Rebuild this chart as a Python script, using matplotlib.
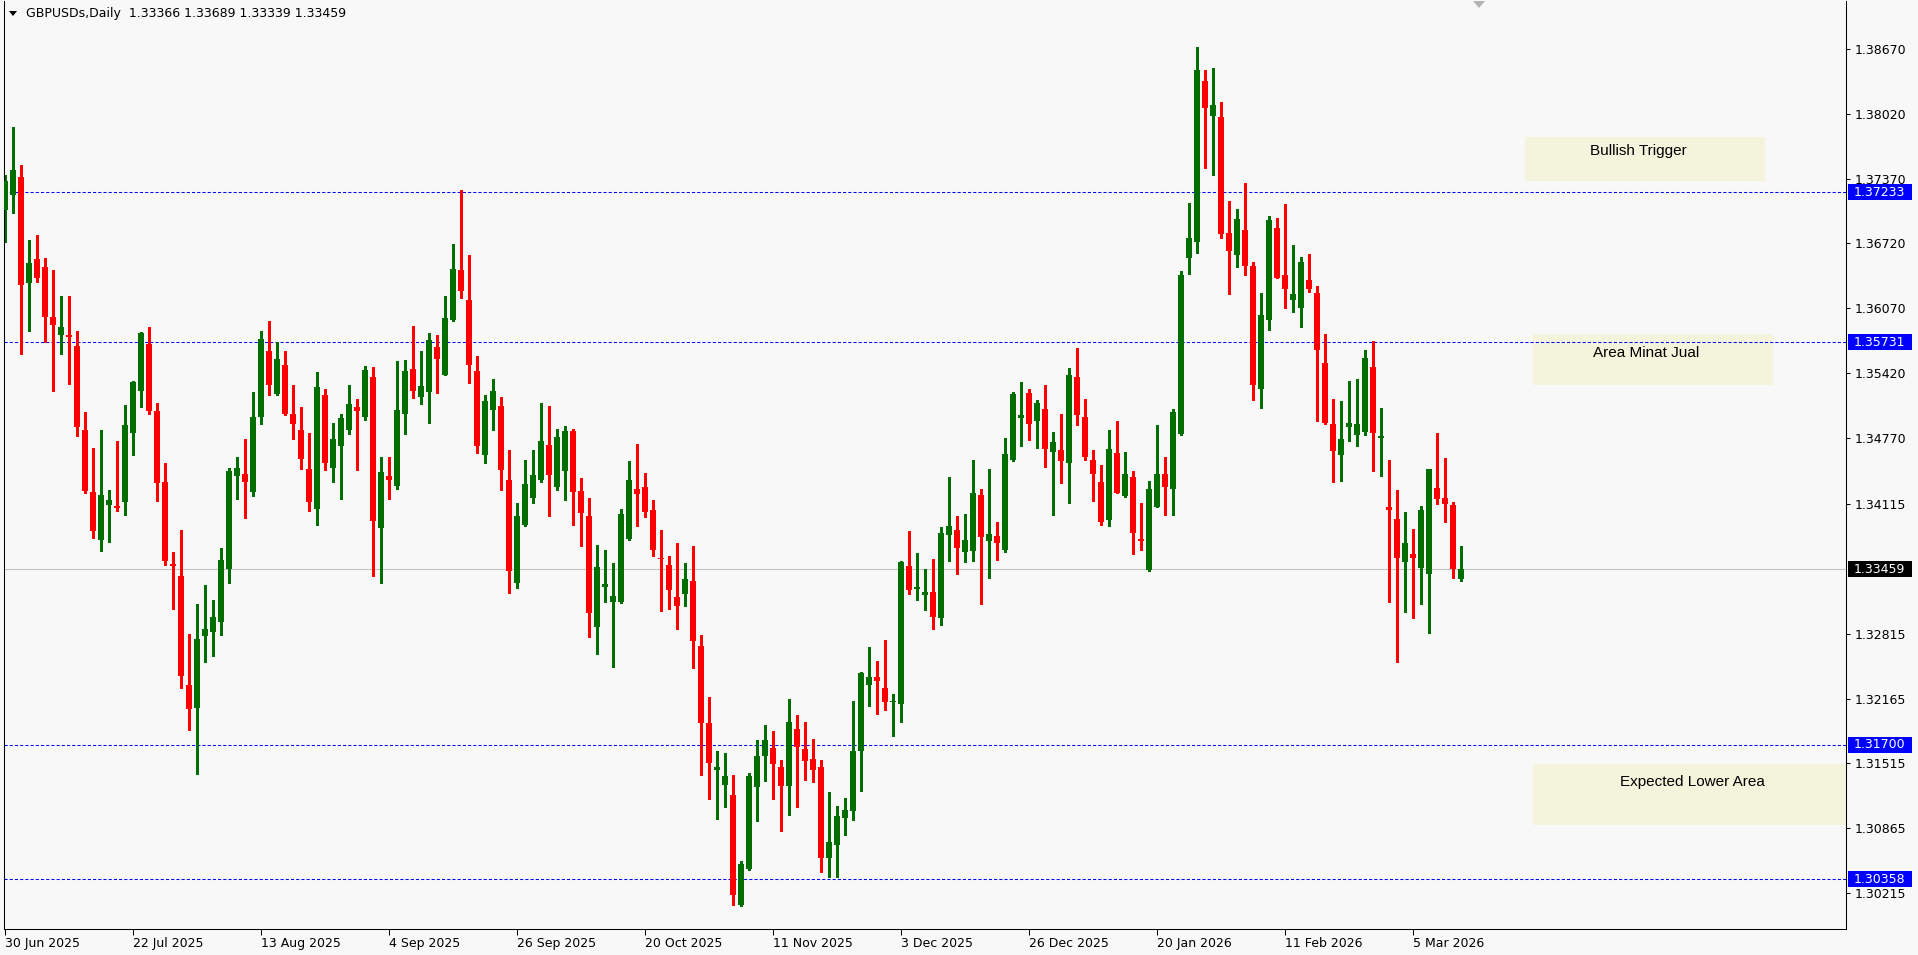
import numpy as np
import matplotlib
matplotlib.use("Agg")
import matplotlib.pyplot as plt
from matplotlib.patches import Rectangle, Polygon

# ---------------- data (GBPUSD daily) ----------------
opens = [1.37055, 1.37207, 1.37385, 1.36327, 1.36561, 1.36483, 1.35984, 1.35807, 1.35802, 1.35694,
         1.34853, 1.34233, 1.33756, 1.34098, 1.34089, 1.34137, 1.34827, 1.35247, 1.35711, 1.35043,
         1.34332, 1.33513, 1.33391, 1.32303, 1.32069, 1.32789, 1.32828, 1.32936, 1.33461, 1.34389,
         1.34415, 1.34237, 1.34983, 1.35642, 1.35212, 1.35503, 1.35013, 1.34853, 1.34462, 1.34059,
         1.35204, 1.34475, 1.34696, 1.34857, 1.35082, 1.34987, 1.35382, 1.33877, 1.34393, 1.34289,
         1.35009, 1.35464, 1.35186, 1.35234, 1.35685, 1.35408, 1.35954, 1.36453, 1.36153, 1.35442,
         1.34605, 1.35056, 1.35090, 1.34350, 1.33325, 1.33901, 1.34174, 1.34350, 1.34700, 1.34284,
         1.34443, 1.34840, 1.34240, 1.33991, 1.32885, 1.33285, 1.33135, 1.33135, 1.33764, 1.34260,
         1.34280, 1.34050, 1.33571, 1.33501, 1.33182, 1.33215, 1.33341, 1.32692, 1.31923, 1.31447,
         1.31297, 1.31204, 1.30097, 1.30458, 1.31278, 1.31586, 1.31673, 1.31484, 1.31286, 1.31856,
         1.31662, 1.31563, 1.31484, 1.30568, 1.30697, 1.30967, 1.31035, 1.31639, 1.32296, 1.32376,
         1.32273, 1.32129, 1.32106, 1.33496, 1.33257, 1.33200, 1.33227, 1.32969, 1.33800, 1.33857,
         1.33629, 1.33641, 1.34207, 1.33746, 1.33792, 1.33647, 1.34555, 1.34976, 1.35221, 1.34946,
         1.35064, 1.34635, 1.34651, 1.34524, 1.35382, 1.34984, 1.34551, 1.34333, 1.33957, 1.34624,
         1.34195, 1.34382, 1.33758, 1.33455, 1.34087, 1.34413, 1.34267, 1.34815, 1.36578, 1.36739,
         1.38348, 1.37992, 1.37988, 1.36826, 1.36609, 1.36856, 1.36495, 1.35267, 1.35958, 1.36876,
         1.36405, 1.36158, 1.36078, 1.36355, 1.36225, 1.35524, 1.34914, 1.34598, 1.34888, 1.34808,
         1.34838, 1.35484, 1.34778, 1.34084, 1.33964, 1.33528, 1.33614, 1.33468, 1.33408, 1.34274,
         1.34174, 1.34104, 1.33366]
highs = [1.37402, 1.37888, 1.37510, 1.36752, 1.36804, 1.36574, 1.36453, 1.36192, 1.36192, 1.35841,
         1.35035, 1.34675, 1.34853, 1.34254, 1.34744, 1.35104, 1.35343, 1.35832, 1.35885, 1.35121,
         1.34527, 1.33634, 1.33855, 1.32815, 1.33110, 1.33305, 1.33153, 1.33673, 1.34471, 1.34584,
         1.34762, 1.35234, 1.35841, 1.35941, 1.35737, 1.35642, 1.35303, 1.35082, 1.34822, 1.35434,
         1.35265, 1.34922, 1.35017, 1.35303, 1.35165, 1.35494, 1.35481, 1.34579, 1.34584, 1.35546,
         1.35555, 1.35893, 1.35642, 1.35824, 1.35802, 1.36192, 1.36713, 1.37255, 1.36604, 1.35594,
         1.35204, 1.35364, 1.35180, 1.34656, 1.34120, 1.34557, 1.34656, 1.35120, 1.35089, 1.34860,
         1.34890, 1.34860, 1.34377, 1.34177, 1.33698, 1.33651, 1.33521, 1.34067, 1.34540, 1.34710,
         1.34420, 1.34150, 1.33857, 1.33591, 1.33718, 1.33521, 1.33691, 1.32802, 1.32183, 1.31643,
         1.31623, 1.31404, 1.30542, 1.31423, 1.31746, 1.31905, 1.31844, 1.31552, 1.32156, 1.32004,
         1.31935, 1.31765, 1.31552, 1.31233, 1.31092, 1.31172, 1.32144, 1.32433, 1.32684, 1.32543,
         1.32756, 1.32213, 1.33538, 1.33846, 1.33626, 1.33466, 1.33557, 1.33884, 1.34378, 1.33994,
         1.34017, 1.34556, 1.34267, 1.34463, 1.33930, 1.34773, 1.35233, 1.35333, 1.35264, 1.35152,
         1.35302, 1.34834, 1.35015, 1.35474, 1.35674, 1.35164, 1.34651, 1.34501, 1.34854, 1.34942,
         1.34631, 1.34444, 1.34122, 1.34340, 1.34903, 1.34582, 1.35064, 1.36444, 1.37126, 1.38689,
         1.38459, 1.38478, 1.38137, 1.37146, 1.37066, 1.37326, 1.36535, 1.36225, 1.36996, 1.36976,
         1.37116, 1.36706, 1.36585, 1.36616, 1.36295, 1.35814, 1.35164, 1.35144, 1.35344, 1.35364,
         1.35654, 1.35744, 1.35074, 1.34554, 1.34254, 1.34034, 1.33864, 1.34094, 1.34464, 1.34824,
         1.34574, 1.34134, 1.33689]
lows = [1.36730, 1.37025, 1.35616, 1.35846, 1.36335, 1.35737, 1.35247, 1.35616, 1.35317, 1.34796,
        1.34224, 1.33777, 1.33639, 1.33730, 1.34046, 1.34007, 1.34605, 1.35087, 1.35017, 1.34146,
        1.33500, 1.33066, 1.32268, 1.31848, 1.31410, 1.32533, 1.32589, 1.32806, 1.33326, 1.34167,
        1.33977, 1.34189, 1.34918, 1.35199, 1.35204, 1.35004, 1.34766, 1.34458, 1.34046, 1.33899,
        1.34449, 1.34337, 1.34159, 1.34818, 1.34449, 1.34957, 1.33387, 1.33318, 1.34159, 1.34267,
        1.34809, 1.35169, 1.35117, 1.34926, 1.35225, 1.35399, 1.35941, 1.36175, 1.35325, 1.34618,
        1.34519, 1.34857, 1.34250, 1.33225, 1.33275, 1.33891, 1.34124, 1.34334, 1.33994, 1.34254,
        1.34154, 1.33904, 1.33694, 1.32785, 1.32606, 1.33135, 1.32476, 1.33125, 1.33757, 1.33894,
        1.33984, 1.33594, 1.33045, 1.33065, 1.32865, 1.33095, 1.32466, 1.31397, 1.31157, 1.30958,
        1.31077, 1.30099, 1.30090, 1.30447, 1.30937, 1.31335, 1.31157, 1.30838, 1.30997, 1.31077,
        1.31347, 1.31328, 1.30428, 1.30378, 1.30378, 1.30796, 1.30948, 1.31237, 1.32087, 1.32008,
        1.32049, 1.31787, 1.31928, 1.33208, 1.33147, 1.33048, 1.32858, 1.32900, 1.33538, 1.33409,
        1.33531, 1.33538, 1.33109, 1.33375, 1.33555, 1.33635, 1.34543, 1.34697, 1.34758, 1.34677,
        1.34486, 1.34007, 1.34325, 1.34126, 1.34907, 1.34555, 1.34145, 1.33903, 1.33896, 1.34218,
        1.34187, 1.33616, 1.33647, 1.33444, 1.34080, 1.34007, 1.34007, 1.34808, 1.36417, 1.36628,
        1.37478, 1.37405, 1.36777, 1.36218, 1.36485, 1.36409, 1.35157, 1.35077, 1.35858, 1.36372,
        1.36078, 1.36038, 1.35888, 1.36238, 1.34947, 1.34914, 1.34328, 1.34338, 1.34748, 1.34688,
        1.34808, 1.34438, 1.34388, 1.33128, 1.32528, 1.33028, 1.32968, 1.33108, 1.32818, 1.34108,
        1.33928, 1.33368, 1.33339]
closes = [1.37341, 1.37454, 1.36305, 1.36522, 1.36379, 1.35989, 1.35906, 1.35885, 1.35789, 1.34879,
          1.34246, 1.33842, 1.34202, 1.34154, 1.34068, 1.34905, 1.35334, 1.35824, 1.35048, 1.34319,
          1.33539, 1.33487, 1.32390, 1.32056, 1.32763, 1.32862, 1.32984, 1.33552, 1.34445, 1.34471,
          1.34328, 1.34983, 1.35763, 1.35299, 1.35564, 1.35017, 1.34918, 1.34566, 1.34137, 1.35282,
          1.34519, 1.34762, 1.34974, 1.35113, 1.35039, 1.35451, 1.33946, 1.34432, 1.34354, 1.35052,
          1.35442, 1.35247, 1.35295, 1.35754, 1.35559, 1.35971, 1.36461, 1.36249, 1.35499, 1.34696,
          1.35143, 1.35243, 1.34450, 1.33445, 1.33991, 1.34310, 1.34400, 1.34740, 1.34403, 1.34780,
          1.34840, 1.34234, 1.34024, 1.33025, 1.33481, 1.33311, 1.33192, 1.34011, 1.34350, 1.34214,
          1.34034, 1.33654, 1.33564, 1.33255, 1.33095, 1.33361, 1.32745, 1.31916, 1.31517, 1.31484,
          1.31394, 1.30198, 1.30511, 1.31385, 1.31594, 1.31753, 1.31506, 1.31286, 1.31935, 1.31677,
          1.31537, 1.31446, 1.30568, 1.30724, 1.30994, 1.31054, 1.31643, 1.32425, 1.32384, 1.32342,
          1.32129, 1.32144, 1.33527, 1.33250, 1.33280, 1.33234, 1.32980, 1.33827, 1.33895, 1.33671,
          1.33755, 1.34226, 1.33781, 1.33812, 1.33723, 1.34612, 1.35214, 1.35003, 1.34915, 1.35122,
          1.34666, 1.34731, 1.34547, 1.35402, 1.35007, 1.34578, 1.34417, 1.33934, 1.34662, 1.34225,
          1.34413, 1.33827, 1.33746, 1.34264, 1.34413, 1.34287, 1.35034, 1.36405, 1.36773, 1.38459,
          1.38080, 1.38107, 1.36819, 1.36649, 1.36966, 1.36499, 1.35304, 1.36005, 1.36956, 1.36379,
          1.36268, 1.36215, 1.36535, 1.36268, 1.35658, 1.34924, 1.34638, 1.34764, 1.34924, 1.34914,
          1.35574, 1.34828, 1.34788, 1.34048, 1.33568, 1.33724, 1.33568, 1.34054, 1.34464, 1.34158,
          1.34108, 1.33458, 1.33459]

date_labels = ["30 Jun 2025", "22 Jul 2025", "13 Aug 2025", "4 Sep 2025", "26 Sep 2025",
               "20 Oct 2025", "11 Nov 2025", "3 Dec 2025", "26 Dec 2025", "20 Jan 2026",
               "11 Feb 2026", "5 Mar 2026"]
label_step = 16  # one date label every 16 daily bars

price_ticks = [1.38670, 1.38020, 1.37370, 1.36720, 1.36070, 1.35420, 1.34770, 1.34115,
               1.32815, 1.32165, 1.31515, 1.30865, 1.30215]
level_lines = [1.37233, 1.35731, 1.31700, 1.30358]
last_price = 1.33459
header = "GBPUSDs,Daily  1.33366 1.33689 1.33339 1.33459"

# annotation zones: (label, bar_from, bar_to, price_low, price_high, text_bar, text_price)
zones = [
    ("Bullish Trigger", 189.96, 219.96, 1.37346, 1.37786, 204.1, 1.37649),
    ("Area Minat Jual", 190.96, 220.96, 1.35303, 1.35814, 205.1, 1.35624),
    ("Expected Lower Area", 190.96, 240.0, 1.30899, 1.31510, 210.9, 1.31329),
]

# ---------------- figure ----------------
W, H = 1918, 955
BG = "#F8F8F8"
GREEN = "#006E00"
RED = "#FF0000"
BLUE = "#0000FF"
BEIGE = "#F4F4DC"

fig = plt.figure(figsize=(W / 100, H / 100), dpi=100, facecolor=BG)
ax_l, ax_r, ax_t, ax_b = 4, 1846, 1, 929  # pixel box of the plot frame
ax = fig.add_axes([ax_l / W, (H - ax_b) / H, (ax_r - ax_l) / W, (ax_b - ax_t) / H])
ax.set_facecolor(BG)

O = np.array(opens); Hh = np.array(highs); L = np.array(lows); C = np.array(closes)
n = len(O)
x = np.arange(n)
up = C >= O
cols = np.where(up, GREEN, RED)

px_per_price = 9990.0
ax.set_xlim((ax_l - 5.3) / 8.0, (ax_r - 5.3) / 8.0)
ax.set_ylim(1.35731 - (ax_b - 342.3) / px_per_price, 1.35731 + (342.3 - ax_t) / px_per_price)

# zones
for label, x0, x1, y0, y1, tx, ty in zones:
    ax.add_patch(Rectangle((x0, y0), x1 - x0, y1 - y0, facecolor=BEIGE, edgecolor="none", zorder=0.5))
    ax.text(tx, ty, label, ha="center", va="center", fontsize=11,
            family=["Liberation Sans", "DejaVu Sans"], color="black", zorder=0.6)

# horizontal lines
ax.axhline(last_price, color="#C0C0C0", lw=0.75, zorder=1)
for lv in level_lines:
    ax.axhline(lv, color=BLUE, lw=0.75, linestyle=(0, (3, 2)), zorder=1.2)

# candles
ax.vlines(x, L, Hh, colors=cols, linewidth=0.8, antialiased=False, zorder=2)
body_h = np.maximum(np.abs(C - O), 1.2 / px_per_price)
ax.bar(x, body_h, bottom=np.minimum(O, C), width=0.75, color=cols, linewidth=0,
       antialiased=False, zorder=3)

# axes styling
for s in ["left", "right", "bottom"]:
    ax.spines[s].set_color("black")
    ax.spines[s].set_linewidth(0.75)
ax.spines["top"].set_visible(False)

ax.yaxis.tick_right()
ax.set_yticks(price_ticks)
ax.set_yticklabels([f"{p:.5f}" for p in price_ticks])
ax.tick_params(axis="y", direction="out", length=3, width=0.75, pad=3, labelsize=9, colors="black")

ax.set_xticks(x[::label_step][:len(date_labels)])
ax.set_xticklabels(date_labels)
for lab in ax.get_xticklabels():
    lab.set_horizontalalignment("left")
ax.tick_params(axis="x", direction="out", length=4, width=0.75, pad=2, labelsize=9, colors="black")

# price label boxes on the right axis
ytr = ax.get_yaxis_transform()
axw = ax_r - ax_l
box_h = 16 / px_per_price
def price_box(p, fc):
    ax.add_patch(Rectangle((1 + 2 / axw, p - box_h / 2), 64 / axw, box_h, transform=ytr,
                           facecolor=fc, edgecolor="none", clip_on=False, zorder=5))
    ax.text(1 + 8 / axw, p, f"{p:.5f}", transform=ytr, color="white", fontsize=9,
            va="center", ha="left", clip_on=False, zorder=6)
for lv in level_lines:
    price_box(lv, BLUE)
price_box(last_price, "black")

# header
fig.text(26 / W, 1 - 14 / H, header, fontsize=9, va="center", ha="left", color="black")
fig.patches.append(Polygon([(9 / W, 1 - 11 / H), (17 / W, 1 - 11 / H), (13 / W, 1 - 16 / H)],
                           closed=True, transform=fig.transFigure, facecolor="black", edgecolor="none"))
# chart shift marker
fig.patches.append(Polygon([(1473 / W, 1 - 1 / H), (1485 / W, 1 - 1 / H), (1479 / W, 1 - 8 / H)],
                           closed=True, transform=fig.transFigure, facecolor="#B4B4B4", edgecolor="none"))

fig.savefig("out.png", dpi=100, facecolor=BG)
